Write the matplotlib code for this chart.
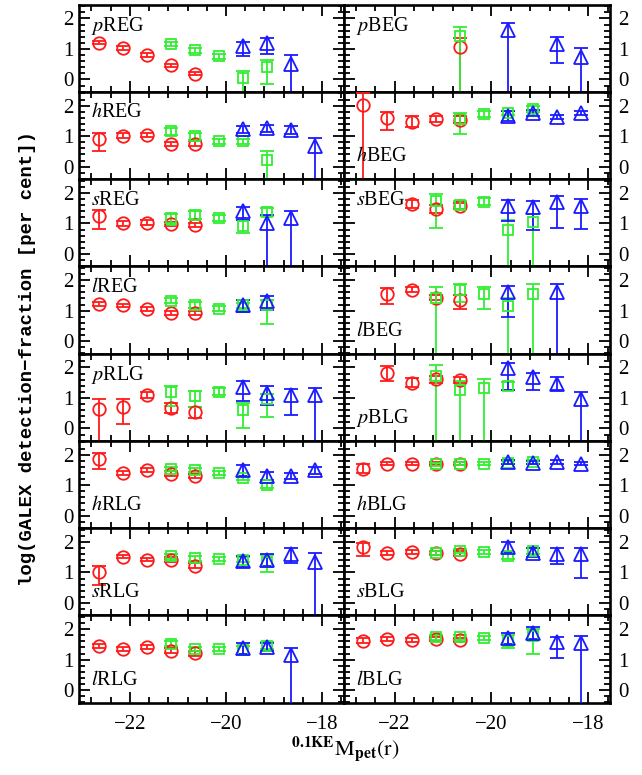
import matplotlib
matplotlib.use("Agg")
import matplotlib.pyplot as plt
from matplotlib.ticker import MultipleLocator
import numpy as np

plt.rcParams['mathtext.fontset'] = 'stix'
plt.rcParams['font.family'] = ['Liberation Serif', 'DejaVu Serif']

# magnitude bins for each sample
X_RED = [-22.65, -22.15, -21.65, -21.15, -20.65]
X_GREEN = [-21.15, -20.65, -20.15, -19.65, -19.15]
X_BLUE = [-19.65, -19.15, -18.65, -18.15]

# each point: (value, lower end of error bar, upper end); -1 means bar runs off the bottom
# ---------------- left column ----------------
pREG_red = [(1.21, 1.15, 1.27), (1.04, 0.98, 1.10), (0.80, 0.74, 0.86), (0.46, 0.40, 0.52), (0.19, 0.13, 0.25)]
pREG_green = [(1.16, 1.08, 1.24), (0.96, 0.88, 1.04), (0.76, 0.68, 0.84), (0.05, -1, 0.29), (0.41, -0.15, 0.63)]
pREG_blue = [(1.08, 0.76, 1.24), (1.21, 0.84, 1.35), (0.52, -1, 0.81), None]

hREG_red = [(0.91, 0.51, 1.10), (1.02, 0.95, 1.09), (1.05, 0.98, 1.12), (0.75, 0.69, 0.81), (0.75, 0.67, 0.83)]
hREG_green = [(1.16, 1.05, 1.27), (0.99, 0.86, 1.12), (0.83, 0.75, 0.91), (0.83, 0.76, 0.90), (0.22, -1, 0.51)]
hREG_blue = [(1.23, 1.12, 1.34), (1.26, 1.15, 1.37), (1.21, 1.08, 1.33), (0.67, -1, 0.93)]

sREG_red = [(1.25, 0.82, 1.44), (1.00, 0.92, 1.08), (1.03, 0.96, 1.10), (0.98, 0.91, 1.05), (0.95, 0.88, 1.02)]
sREG_green = [(1.17, 0.95, 1.30), (1.28, 1.16, 1.40), (1.17, 1.07, 1.27), (0.92, 0.69, 1.10), (1.36, 1.25, 1.50)]
sREG_blue = [(1.42, 1.12, 1.55), (1.01, -1, 1.28), (1.17, -1, 1.42), None]

lREG_red = [(1.21, 1.15, 1.27), (1.17, 1.11, 1.23), (1.06, 1.00, 1.12), (0.93, 0.86, 1.00), (0.93, 0.86, 1.00)]
lREG_green = [(1.33, 1.25, 1.41), (1.20, 1.10, 1.30), (1.07, 0.99, 1.15), (1.18, 1.10, 1.26), (1.20, 0.56, 1.35)]
lREG_blue = [(1.20, 0.96, 1.34), (1.31, 1.02, 1.47), None, None]

pRLG_red = [(0.65, -1, 0.98), (0.69, 0.13, 0.95), (1.11, 1.01, 1.21), (0.68, 0.49, 0.82), (0.55, 0.33, 0.71)]
pRLG_green = [(1.20, 0.74, 1.38), (1.06, 0.71, 1.23), (1.20, 1.08, 1.32), (0.60, 0.03, 0.82), (0.95, 0.38, 1.14)]
pRLG_blue = [(1.36, 0.90, 1.55), (1.16, 0.76, 1.38), (1.09, 0.44, 1.28), (1.09, -1, 1.34)]

hRLG_red = [(1.87, 1.54, 2.05), (1.40, 1.33, 1.47), (1.49, 1.43, 1.55), (1.38, 1.30, 1.46), (1.30, 1.22, 1.38)]
hRLG_green = [(1.54, 1.47, 1.61), (1.49, 1.42, 1.56), (1.41, 1.35, 1.47), (1.24, 1.17, 1.31), (1.00, 0.92, 1.08)]
hRLG_blue = [(1.49, 1.30, 1.67), (1.29, 1.16, 1.42), (1.30, 1.20, 1.40), (1.49, 1.37, 1.61)]

sRLG_red = [(1.00, 0.60, 1.20), (1.52, 1.46, 1.58), (1.42, 1.36, 1.48), (1.41, 1.33, 1.49), (1.22, 1.14, 1.30)]
sRLG_green = [(1.53, 1.45, 1.61), (1.46, 1.39, 1.53), (1.44, 1.38, 1.50), (1.42, 1.35, 1.49), (1.33, 1.03, 1.57)]
sRLG_blue = [(1.39, 1.19, 1.55), (1.42, 1.20, 1.62), (1.60, 1.30, 1.79), (1.35, -1, 1.64)]

lRLG_red = [(1.44, 1.37, 1.51), (1.35, 1.29, 1.41), (1.41, 1.34, 1.48), (1.30, 1.22, 1.38), (1.21, 1.13, 1.29)]
lRLG_green = [(1.52, 1.44, 1.60), (1.35, 1.27, 1.43), (1.35, 1.29, 1.41), (1.32, 1.20, 1.44), (1.46, 1.34, 1.58)]
lRLG_blue = [(1.39, 1.17, 1.54), (1.41, 1.27, 1.55), (1.14, -1, 1.39), None]

# ---------------- right column ----------------
pBEG_red = [None, None, None, None, (1.05, -1, 1.35)]
pBEG_green = [None, (1.43, -1, 1.73), None, None, None]
pBEG_blue = [(1.62, -1, 1.86), None, (1.17, 0.54, 1.38), (0.74, -1, 1.03)]

hBEG_red = [(2.02, -1, 2.40), (1.59, 1.21, 1.78), (1.48, 1.31, 1.65), (1.57, 1.47, 1.67), (1.54, 1.42, 1.66)]
hBEG_green = [None, (1.56, 1.07, 1.77), (1.72, 1.62, 1.82), (1.75, 1.68, 1.82), (1.88, 1.78, 1.98)]
hBEG_blue = [(1.66, 1.51, 1.81), (1.75, 1.65, 1.85), (1.64, 1.57, 1.71), (1.75, 1.68, 1.82)]

sBEG_red = [None, None, (1.64, 1.52, 1.76), (1.46, 1.33, 1.59), (1.57, 1.47, 1.67)]
sBEG_green = [(1.73, 0.85, 1.98), (1.60, 1.47, 1.73), (1.71, 1.59, 1.83), (0.79, -1, 1.10), (1.06, -1, 1.30)]
sBEG_blue = [(1.57, 1.07, 1.77), (1.55, 0.77, 1.74), (1.71, 0.85, 1.91), (1.57, 0.82, 1.80)]

lBEG_red = [None, (1.54, 1.23, 1.74), (1.69, 1.61, 1.77), (1.43, 1.36, 1.50), (1.34, 1.07, 1.50)]
lBEG_green = [(1.42, -1, 1.76), (1.67, 1.27, 1.86), (1.55, 1.07, 1.77), (1.16, -1, 1.40), (1.56, -1, 1.88)]
lBEG_blue = [(1.61, 0.80, 1.80), None, (1.61, -1, 1.86), None]

pBLG_red = [None, (1.82, 1.55, 2.04), (1.50, 1.35, 1.65), (1.61, 1.49, 1.73), (1.58, 1.48, 1.68)]
pBLG_green = [(1.72, -1, 2.07), (1.25, -1, 1.56), (1.34, -1, 1.63), (1.39, 1.27, 1.51), None]
pBLG_blue = [(1.98, 1.25, 2.16), (1.69, 1.25, 1.83), (1.47, 1.27, 1.67), (0.98, -1, 1.20)]

hBLG_red = [(1.54, 1.39, 1.69), (1.71, 1.66, 1.76), (1.71, 1.66, 1.76), (1.71, 1.65, 1.77), (1.71, 1.65, 1.77)]
hBLG_green = [(1.68, 1.63, 1.73), (1.70, 1.65, 1.75), (1.70, 1.65, 1.75), (1.73, 1.68, 1.78), (1.76, 1.71, 1.81)]
hBLG_blue = [(1.76, 1.71, 1.81), (1.73, 1.68, 1.78), (1.76, 1.71, 1.81), (1.71, 1.66, 1.76)]

sBLG_red = [(1.82, 1.55, 1.98), (1.64, 1.58, 1.70), (1.66, 1.60, 1.72), (1.64, 1.57, 1.71), (1.62, 1.54, 1.70)]
sBLG_green = [(1.64, 1.57, 1.71), (1.71, 1.64, 1.78), (1.66, 1.60, 1.72), (1.53, 1.43, 1.63), (1.71, 1.61, 1.81)]
sBLG_blue = [(1.82, 1.66, 2.00), (1.64, 1.49, 1.79), (1.62, 1.28, 1.79), (1.60, 0.82, 1.80)]

lBLG_red = [(1.62, 1.54, 1.70), (1.67, 1.61, 1.73), (1.64, 1.58, 1.70), (1.67, 1.61, 1.73), (1.64, 1.57, 1.71)]
lBLG_green = [(1.73, 1.66, 1.80), (1.73, 1.66, 1.80), (1.70, 1.64, 1.76), (1.60, 1.37, 1.81), (1.79, 1.19, 2.00)]
lBLG_blue = [(1.71, 1.52, 1.89), (1.89, 1.67, 2.08), (1.57, 1.05, 1.73), (1.54, -1, 1.76)]

LEFT_PANELS = [("p", "REG", "top", pREG_red, pREG_green, pREG_blue),
               ("h", "REG", "top", hREG_red, hREG_green, hREG_blue),
               ("s", "REG", "top", sREG_red, sREG_green, sREG_blue),
               ("l", "REG", "top", lREG_red, lREG_green, lREG_blue),
               ("p", "RLG", "top", pRLG_red, pRLG_green, pRLG_blue),
               ("h", "RLG", "bottom", hRLG_red, hRLG_green, hRLG_blue),
               ("s", "RLG", "bottom", sRLG_red, sRLG_green, sRLG_blue),
               ("l", "RLG", "bottom", lRLG_red, lRLG_green, lRLG_blue)]
RIGHT_PANELS = [("p", "BEG", "top", pBEG_red, pBEG_green, pBEG_blue),
                ("h", "BEG", "bottom", hBEG_red, hBEG_green, hBEG_blue),
                ("s", "BEG", "top", sBEG_red, sBEG_green, sBEG_blue),
                ("l", "BEG", "bottom", lBEG_red, lBEG_green, lBEG_blue),
                ("p", "BLG", "bottom", pBLG_red, pBLG_green, pBLG_blue),
                ("h", "BLG", "bottom", hBLG_red, hBLG_green, hBLG_blue),
                ("s", "BLG", "bottom", sBLG_red, sBLG_green, sBLG_blue),
                ("l", "BLG", "bottom", lBLG_red, lBLG_green, lBLG_blue)]

YLABEL = "log(GALEX detection\u2212fraction [per cent])"

RED = "#ff1a1a"
GREEN = "#33ee33"
BLUE = "#1a1aff"

W, H = 642, 775
fig = plt.figure(figsize=(W / 100, H / 100), dpi=100)

XLIM = (-23.05, -17.55)
YLIM = (-0.41, 2.45)
left_px, mid_px, right_px = 79.3, 343.8, 610.0
top_px, row_px = 4.7, 87.25


def draw_series(ax, xs, pts, color, marker, ms):
    x, y, lo, hi = [], [], [], []
    for xi, p in zip(xs, pts):
        if p is None:
            continue
        x.append(xi)
        y.append(p[0])
        lo.append(p[0] - p[1])
        hi.append(p[2] - p[0])
    if not x:
        return
    ax.errorbar(x, y, yerr=[lo, hi], fmt=marker, mfc='none', mec=color, ecolor=color,
                ms=ms, mew=1.3, elinewidth=1.3, capsize=5, capthick=1.3, zorder=3)


for col, panels in enumerate([LEFT_PANELS, RIGHT_PANELS]):
    x0 = left_px if col == 0 else mid_px
    x1 = mid_px if col == 0 else right_px
    for row, (letter, sample, pos, red, green, blue) in enumerate(panels):
        ytop = top_px + row * row_px
        ax = fig.add_axes([x0 / W, 1 - (ytop + row_px) / H, (x1 - x0) / W, row_px / H])
        ax.set_xlim(*XLIM)
        ax.set_ylim(*YLIM)
        draw_series(ax, X_RED, red, RED, 'o', 9)
        draw_series(ax, X_GREEN, green, GREEN, 's', 7)
        draw_series(ax, X_BLUE, blue, BLUE, '^', 10)
        ax.xaxis.set_major_locator(MultipleLocator(2))
        ax.xaxis.set_minor_locator(MultipleLocator(0.4))
        ax.yaxis.set_major_locator(MultipleLocator(1))
        ax.yaxis.set_minor_locator(MultipleLocator(0.2))
        ax.tick_params(which='both', direction='in', top=True, bottom=True, left=True, right=True,
                       width=1.3, labelsize=15)
        ax.tick_params(which='major', length=8)
        ax.tick_params(which='minor', length=4)
        for s in ax.spines.values():
            s.set_linewidth(1.9)
        if col == 0:
            ax.tick_params(labelleft=True, labelright=False, pad=4)
        else:
            ax.tick_params(labelleft=False, labelright=True, pad=6)
        if row == 7:
            ax.tick_params(axis='x', labelbottom=True, pad=9)
        else:
            ax.tick_params(axis='x', labelbottom=False)
        ty = 0.76 if pos == "top" else 0.26
        ax.text(0.045, ty, '$' + letter + '$' + sample,
                transform=ax.transAxes, fontsize=14.5, va='center', ha='left')

fig.text(28 / W, 1 - 358 / H, YLABEL, rotation=90, ha='center', va='center',
         family=['Liberation Mono', 'DejaVu Sans Mono'], fontweight='bold', fontsize=13.6)
fig.text(345 / W, 1 - 749 / H, r'$^{\mathbf{0.1KE}}\mathrm{M}_{\mathbf{pet}}\mathrm{(r)}$',
         ha='center', va='center', fontsize=16)

fig.savefig("out.png", dpi=100)
